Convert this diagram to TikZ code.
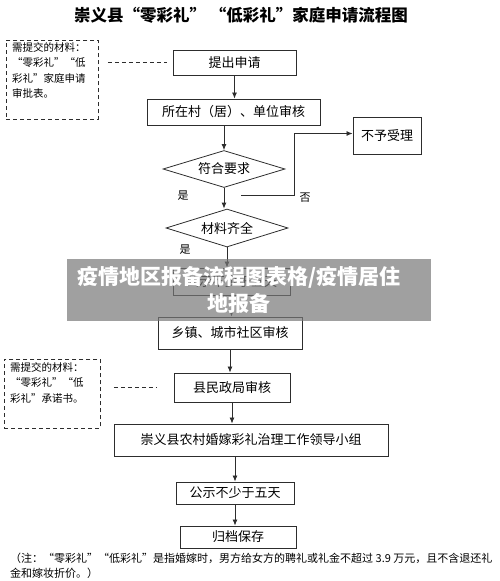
\documentclass[tikz,border=0pt]{standalone}
\usepackage{fontspec}
\setmainfont{Noto Sans CJK SC}
\usetikzlibrary{arrows.meta,shapes.geometric,calc}
\definecolor{flowline}{RGB}{45,45,45}
\definecolor{bannergray}{RGB}{120,120,120}
\tikzset{
  stepbox/.style={draw=flowline, line width=0.9pt, fill=white, align=center,
    inner sep=1pt, font=\fontsize{13}{15}\selectfont},
  check/.style={diamond, draw=flowline, line width=0.8pt, aspect=3.4, inner sep=1pt,
    minimum width=122pt, minimum height=37pt, font=\fontsize{13}{15}\selectfont},
  matbox/.style={draw=flowline, line width=0.8pt, dash pattern=on 4pt off 3pt},
  mattext/.style={anchor=north west, align=left, inner sep=0pt, font=\fontsize{10.5}{15.5}\selectfont},
  flow/.style={-{Latex[length=6pt,width=5pt]}, line width=0.8pt, draw=flowline},
  dashlink/.style={line width=0.8pt, draw=flowline, dash pattern=on 4pt off 3pt},
  answer/.style={font=\fontsize{11}{13}\selectfont, inner sep=0pt}
}

\begin{document}
\begin{tikzpicture}[x=1pt, y=-1pt]
  \useasboundingbox (0,0) rectangle (500,581);

  \node[font=\fontsize{16.5}{18}\selectfont\bfseries] (title) at (241,15)
    {崇义县“零彩礼”\ “低彩礼”家庭申请流程图};

  % materials to hand in
  \node[matbox, anchor=north west, minimum width=92pt, minimum height=79pt] (mat1) at (6,40) {};
  \node[mattext] (mat1text) at (12,42) {需提交的材料：\\“零彩礼”“低\\彩礼”家庭申请\\审批表。};
  \node[matbox, anchor=north west, minimum width=96pt, minimum height=69pt] (mat2) at (4,359) {};
  \node[mattext] (mat2text) at (10,362) {需提交的材料：\\“零彩礼”“低\\彩礼”承诺书。};

  % main steps
  \node[stepbox, minimum width=123pt, minimum height=25pt] (apply) at (234.5,62.5) {提出申请};
  \node[stepbox, minimum width=173pt, minimum height=26pt] (village) at (233.5,112) {所在村（居）、单位审核};
  \node[check] (meet) at (224,169) {符合要求};
  \node[stepbox, minimum width=68pt, minimum height=37pt] (reject) at (387,135.5) {不予受理};
  \node[check, minimum height=38pt] (docs) at (227,228) {材料齐全};
  \node[stepbox, minimum width=117pt, minimum height=27pt] (publicbox) at (231.5,281.5) {公示不少于五天};
  \node[stepbox, minimum width=144pt, minimum height=32pt] (town) at (230,333) {乡镇、城市社区审核};
  \node[stepbox, minimum width=116pt, minimum height=29pt] (bureau) at (232,387.5) {县民政局审核};
  \node[stepbox, minimum width=274pt, minimum height=32pt] (group) at (251,440) {崇义县农村婚嫁彩礼治理工作领导小组};
  \node[stepbox, minimum width=118pt, minimum height=22pt] (notice) at (235,493) {公示不少于五天};
  \node[stepbox, minimum width=116pt, minimum height=22pt] (archive) at (238,537) {归档保存};

  \node[answer] (yes1) at (183,196) {是};
  \node[answer] (no1) at (305,198) {否};
  \node[answer] (yes2) at (185,250) {是};

  \draw[dashlink] ([xshift=9pt]mat1.east |- apply.west) -- ([xshift=-6pt]apply.west);
  \draw[dashlink] ([xshift=13pt]mat2.east |- bureau.west) -- ([xshift=-17pt]bureau.west);

  \draw[flow] (apply.south) -- (apply.south |- village.north);
  \draw[flow] (village.south -| meet.north) -- (meet.north);
  \draw[flow] (meet.south) -- (meet.south |- docs.north);
  \draw[flow] ([shift={(17,7)}]meet.south) -- ++(53,0) |- ([yshift=2pt]reject.west);
  \draw[flow] (docs.south) -- (docs.south |- publicbox.north);
  \draw[flow] (publicbox.south) -- (publicbox.south |- town.north);
  \draw[flow] (town.south) -- (town.south |- bureau.north);
  \draw[flow] (bureau.south) -- (bureau.south |- group.north);
  \draw[flow] (notice.north |- group.south) -- (notice.north);
  \draw[flow] (notice.south) -- (notice.south |- archive.north);

  \node[anchor=north west, align=left, inner sep=0pt, font=\fontsize{11}{15}\selectfont] (footnote) at (10,553)
    {（注：“零彩礼”“低彩礼”是指婚嫁时，男方给女方的聘礼或礼金不超过 3.9 万元，且不含退还礼\\金和嫁妆折价。）};

  % overlay banner
  \node[fill=bannergray, fill opacity=0.7, minimum width=364pt, minimum height=62pt, inner sep=0pt] (banner) at (249,290) {};
  \node[text=white, align=center, font=\fontsize{21}{27}\selectfont\bfseries] (bannertext) at (239,290)
    {疫情地区报备流程图表格/疫情居住\\地报备};
\end{tikzpicture}
\end{document}
